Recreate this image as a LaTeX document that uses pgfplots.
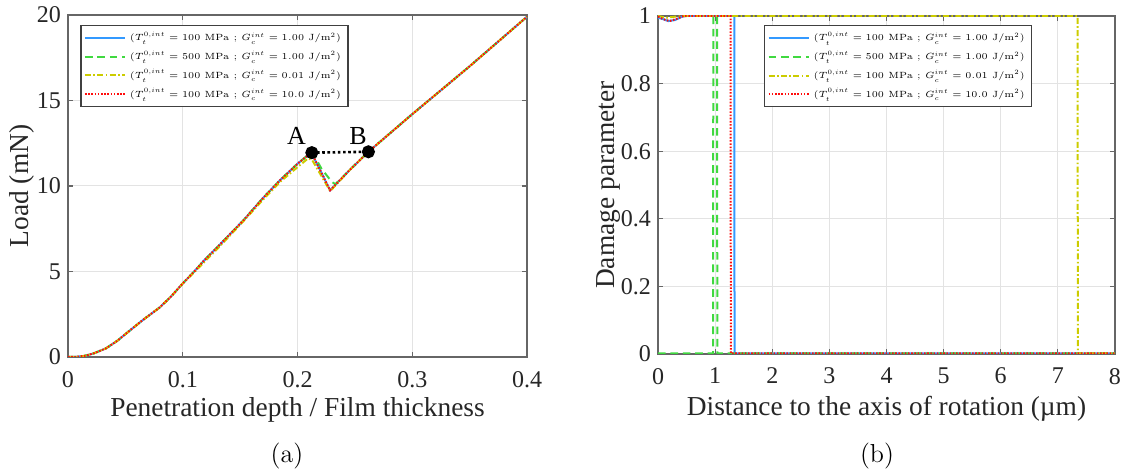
\RequirePackage{fix-cm}
\documentclass[border=0pt]{standalone}
\usepackage{fontspec}
\usepackage{pgfplots}
\pgfplotsset{compat=1.18}
\newfontfamily\tms{Liberation Serif}
\DeclareMathSizes{4.5}{4.5}{3.3}{2.6}
\definecolor{cblue}{rgb}{0.2,0.6,1.0}
\definecolor{cgreen}{rgb}{0.25,0.85,0.25}
\definecolor{cyellow}{rgb}{0.8,0.8,0.0}
\definecolor{cred}{rgb}{1.0,0.05,0.05}
\definecolor{txt}{rgb}{0.15,0.15,0.15}
\pgfplotsset{
  myax/.style={
    scale only axis,
    anchor=south west,
    axis line style={gray!80!black, line width=0.7pt},
    grid=major,
    grid style={gray!22, line width=0.5pt},
    tick style={gray!80!black, line width=0.6pt},
    major tick length=2.5pt,
    tick align=inside,
    xtick pos=both, ytick pos=both,
    /pgf/number format/assume math mode=true,
    tick label style={font=\tms\fontsize{12}{14}\selectfont, text=txt},
    xticklabel style={yshift=-3.5pt},
    label style={font=\tms\fontsize{13.7}{16}\selectfont, text=txt},
    legend style={font=\fontsize{4.5}{5.2}\selectfont, draw=black!75, line width=0.6pt,
      inner xsep=1.5pt, inner ysep=1.2pt, row sep=-0.5pt, fill=white},
    legend cell align=left,
    legend image code/.code={\draw[#1] (0pt,0pt) -- (20pt,0pt);},
  },
  sb/.style={cblue, line width=1.0pt},
  sg/.style={cgreen, line width=1.0pt, dash pattern=on 3.8pt off 2.4pt},
  sy/.style={cyellow, line width=1.0pt, dash pattern=on 3pt off 1.2pt on 0.8pt off 1.2pt},
  sr/.style={cred, line width=1.0pt, dash pattern=on 0.8pt off 0.8pt},
}
\begin{document}
\begin{tikzpicture}
\path[use as bounding box] (0,0) rectangle (562pt,237pt);
\begin{axis}[myax,
  at={(34pt,58.5pt)}, width=229.5pt, height=171pt,
  xmin=0, xmax=0.4, ymin=0, ymax=20,
  xtick={0,0.1,0.2,0.3,0.4}, ytick={0,5,10,15,20},
  xticklabels={0,0.1,0.2,0.3,0.4},
  xlabel={Penetration depth / Film thickness},
  ylabel={Load (mN)},
  xlabel style={at={(rel axis cs:0.5,0)}, anchor=center, yshift=-26.5pt},
  ylabel style={at={(rel axis cs:0,0.5)}, anchor=center, yshift=23pt},
  legend style={at={(0.027,0.971)}, anchor=north west},
]
\addplot[sb] coordinates {(0,0) (0.007,0.01) (0.014,0.06) (0.022,0.2) (0.033,0.5) (0.043,0.95) (0.053,1.5) (0.065,2.15) (0.080,2.9) (0.090,3.55) (0.100,4.3) (0.110,5.0) (0.118,5.6) (0.132,6.55) (0.153,8.0) (0.170,9.3) (0.185,10.35) (0.200,11.3) (0.210,11.85) (0.2125,11.9) (0.2284,9.75) (0.245,10.9) (0.2618,12.0) (0.30,14.2) (0.35,17.0) (0.40,19.9)};
\addlegendentry{$(T_t^{0,int}=100$ MPa ; $G_c^{int}=1.00$ J/m$^2)$}
\addplot[sg] coordinates {(0,0) (0.007,0.01) (0.014,0.06) (0.022,0.2) (0.033,0.5) (0.043,0.95) (0.053,1.5) (0.065,2.15) (0.080,2.9) (0.090,3.55) (0.100,4.3) (0.110,5.0) (0.118,5.6) (0.132,6.55) (0.153,8.0) (0.170,9.3) (0.185,10.35) (0.200,11.3) (0.210,11.85) (0.2125,11.9) (0.216,11.6) (0.221,11.0) (0.2298,10.25) (0.233,10.1) (0.245,10.9) (0.2618,12.0) (0.30,14.2) (0.35,17.0) (0.40,19.9)};
\addlegendentry{$(T_t^{0,int}=500$ MPa ; $G_c^{int}=1.00$ J/m$^2)$}
\addplot[sy] coordinates {(0,0) (0.007,0.01) (0.014,0.06) (0.022,0.2) (0.033,0.5) (0.043,0.95) (0.053,1.5) (0.065,2.15) (0.080,2.9) (0.090,3.55) (0.100,4.3) (0.110,4.95) (0.118,5.5) (0.132,6.45) (0.153,7.95) (0.170,9.2) (0.185,10.25) (0.200,11.1) (0.209,11.6) (0.2125,11.55) (0.2285,9.7) (0.245,10.9) (0.2618,12.0) (0.30,14.2) (0.35,17.0) (0.40,19.9)};
\addlegendentry{$(T_t^{0,int}=100$ MPa ; $G_c^{int}=0.01$ J/m$^2)$}
\addplot[sr] coordinates {(0,0) (0.007,0.01) (0.014,0.06) (0.022,0.2) (0.033,0.5) (0.043,0.95) (0.053,1.5) (0.065,2.15) (0.080,2.9) (0.090,3.55) (0.100,4.3) (0.110,5.0) (0.118,5.6) (0.132,6.55) (0.153,8.0) (0.170,9.3) (0.185,10.35) (0.200,11.3) (0.210,11.85) (0.2125,11.9) (0.2284,9.75) (0.245,10.9) (0.2618,12.0) (0.30,14.2) (0.35,17.0) (0.40,19.9)};
\addlegendentry{$(T_t^{0,int}=100$ MPa ; $G_c^{int}=10.0$ J/m$^2)$}
\addplot[black, line width=1.3pt, dash pattern=on 1.3pt off 1.3pt, mark=*, mark size=2.6pt, mark options={solid}, forget plot] coordinates {(0.2125,11.95) (0.2618,12.0)};
\node[font=\tms\fontsize{13}{15}\selectfont, text=black, anchor=south east, inner sep=1pt] at (axis cs:0.2095,12.3) {A};
\node[font=\tms\fontsize{13}{15}\selectfont, text=black, anchor=south east, inner sep=1pt] at (axis cs:0.2625,12.3) {B};
\end{axis}
\begin{axis}[myax,
  at={(329pt,60pt)}, width=228.5pt, height=169pt,
  xmin=0, xmax=8, ymin=0, ymax=1,
  xtick={0,1,...,8}, ytick={0,0.2,0.4,0.6,0.8,1},
  yticklabels={0,0.2,0.4,0.6,0.8,1},
  xlabel={Distance to the axis of rotation (µm)},
  ylabel={Damage parameter},
  xlabel style={at={(rel axis cs:0.5,0)}, anchor=center, yshift=-27.5pt},
  ylabel style={at={(rel axis cs:0,0.5)}, anchor=center, yshift=25pt},
  legend style={at={(0.232,0.973)}, anchor=north west},
]
\addplot[sb] coordinates {(0,0.995) (0.1,0.99) (0.18,0.985) (0.3,0.988) (0.42,0.998) (0.5,1) (1.335,1) (1.34,0.002) (8,0.002)};
\addlegendentry{$(T_t^{0,int}=100$ MPa ; $G_c^{int}=1.00$ J/m$^2)$}
\addplot[sg] coordinates {(0,0.002) (0.965,0.002) (0.968,1) (1.035,1) (1.038,0.002) (8,0.002)};
\addlegendentry{$(T_t^{0,int}=500$ MPa ; $G_c^{int}=1.00$ J/m$^2)$}
\addplot[sy] coordinates {(0,1) (0.15,0.995) (0.3,0.998) (0.5,1) (7.345,1) (7.35,0.002) (8,0.002)};
\addlegendentry{$(T_t^{0,int}=100$ MPa ; $G_c^{int}=0.01$ J/m$^2)$}
\addplot[sr] coordinates {(0,0.998) (0.1,0.99) (0.2,0.985) (0.3,0.99) (0.45,1) (1.27,1) (1.275,0.002) (8,0.002)};
\addlegendentry{$(T_t^{0,int}=100$ MPa ; $G_c^{int}=10.0$ J/m$^2)$}
\end{axis}
\node[font=\fontsize{13}{15}\selectfont] at (143.5pt,9pt) {(a)};
\node[font=\fontsize{13}{15}\selectfont] at (438.5pt,9pt) {(b)};
\end{tikzpicture}
\end{document}
